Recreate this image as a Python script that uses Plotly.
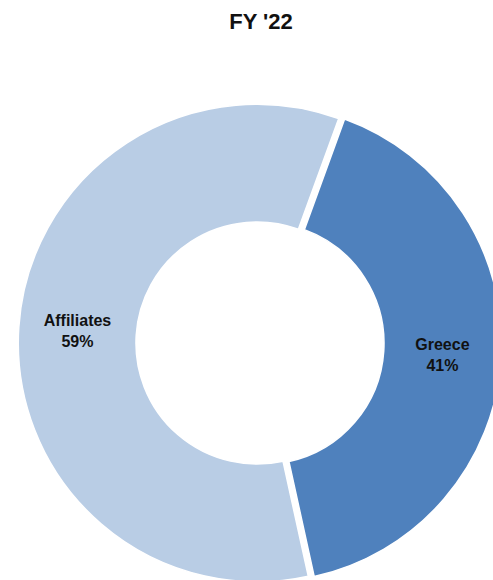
import plotly.graph_objects as go

# Revenue split, FY '22
labels = ["Greece", "Affiliates"]
shares = [41, 59]
colors = ["#4F81BD", "#B9CDE5"]
pulls = [0.025, 0]

W, H = 510, 590  # canvas slightly larger than the viewport so the ring bleeds off the edge

fig = go.Figure(
    go.Pie(
        labels=labels,
        values=shares,
        sort=False,
        direction="clockwise",
        rotation=20,
        hole=0.507,
        pull=pulls,
        marker=dict(colors=colors, line=dict(color="white", width=1.5)),
        texttemplate="<b>%{label}<br>%{value}%</b>",
        textposition="inside",
        insidetextorientation="horizontal",
        textfont=dict(family="Liberation Sans, Arial, sans-serif", size=16, color="#111111"),
        hoverinfo="label+percent",
        showlegend=False,
        domain=dict(x=[12.3 / W, 501.7 / W], y=[1 - 587.7 / H, 1 - 98.3 / H]),
    )
)

fig.update_layout(
    width=W,
    height=H,
    margin=dict(l=0, r=0, t=0, b=0),
    paper_bgcolor="white",
    plot_bgcolor="white",
    title=dict(
        text="<b>FY '22</b>",
        x=261 / W,
        xanchor="center",
        xref="paper",
        y=1 - 21 / H,
        yref="container",
        yanchor="middle",
        font=dict(family="Liberation Sans, Arial, sans-serif", size=22, color="#111111"),
    ),
)

fig.write_html(
    "out.html",
    post_script="document.documentElement.style.overflow='hidden';document.body.style.overflow='hidden';",
)
